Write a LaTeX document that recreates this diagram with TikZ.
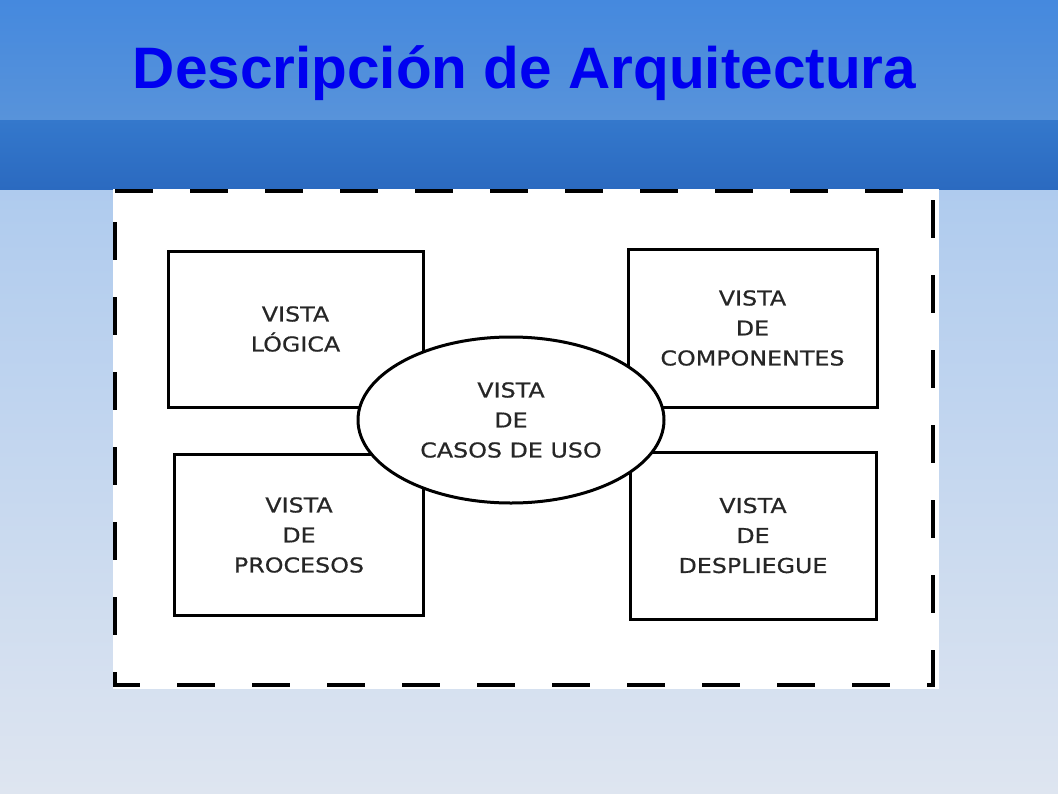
\documentclass[tikz,border=0pt]{standalone}
\usepackage{fontspec}
\usetikzlibrary{positioning, shapes.geometric}

\newfontfamily\titlefont{Liberation Sans}
\newfontfamily\vistafont[FakeStretch=1.16, FakeBold=0.6]{DejaVu Sans}

\definecolor{bandtop}{RGB}{69,137,222}
\definecolor{bandmid}{RGB}{88,147,218}
\definecolor{bandlow}{RGB}{52,120,204}
\definecolor{banddark}{RGB}{43,106,192}
\definecolor{pagetop}{RGB}{175,203,238}
\definecolor{pagelow}{RGB}{222,229,240}
\definecolor{titleblue}{RGB}{0,0,240}

\tikzset{
	vista box/.style={draw, line width=3pt, fill=white, inner sep=0pt, align=center,
		text=black!85, font=\vistafont\fontsize{20.5}{30}\selectfont},
	vista oval/.style={vista box, ellipse},
	frame line/.style={line width=4pt, dash pattern=on 38pt off 37pt}
}

\begin{document}
\begin{tikzpicture}[x=1pt, y=-1pt]
	\useasboundingbox (0, 0) rectangle (1058, 793);

	% fondo y cabecera
	\shade [top color=pagetop, bottom color=pagelow] (0, 189) rectangle (1058, 793);
	\shade [top color=bandtop, bottom color=bandmid] (0, 0) rectangle (1058, 120);
	\shade [top color=bandlow, bottom color=banddark] (0, 120) rectangle (1058, 189);
	\fill [white] (113, 189) rectangle (939, 689);

	\node [anchor=base, text=titleblue, font=\titlefont\bfseries\fontsize{58.5}{60}\selectfont] (titulo) at (524.5, 88) {Descripción de Arquitectura};

	% marco discontinuo
	\draw [frame line] (115, 191) -- (935, 191);
	\draw [frame line, dash phase=11pt] (113, 685) -- (935, 685);
	\draw [frame line, dash phase=43pt] (115, 190) -- (115, 687);
	\draw [frame line, dash phase=65pt] (933, 190) -- (933, 687);

	% vistas
	\foreach \n/\x/\y/\w/\h/\t in {logica/295.5/329/255/156/{VISTA\\LÓGICA},
			componentes/752.5/328/249/158/{VISTA\\DE\\COMPONENTES},
			procesos/299/535/249/161/{VISTA\\DE\\PROCESOS},
			despliegue/753/535.5/246/167/{VISTA\\DE\\DESPLIEGUE}}
		\node [vista box, minimum width=\w, minimum height=\h] (\n) at (\x, \y) {\t};

	\node [vista oval, minimum width=306, minimum height=166] (casos) at (511, 420) {VISTA\\DE\\CASOS DE USO};
\end{tikzpicture}
\end{document}
